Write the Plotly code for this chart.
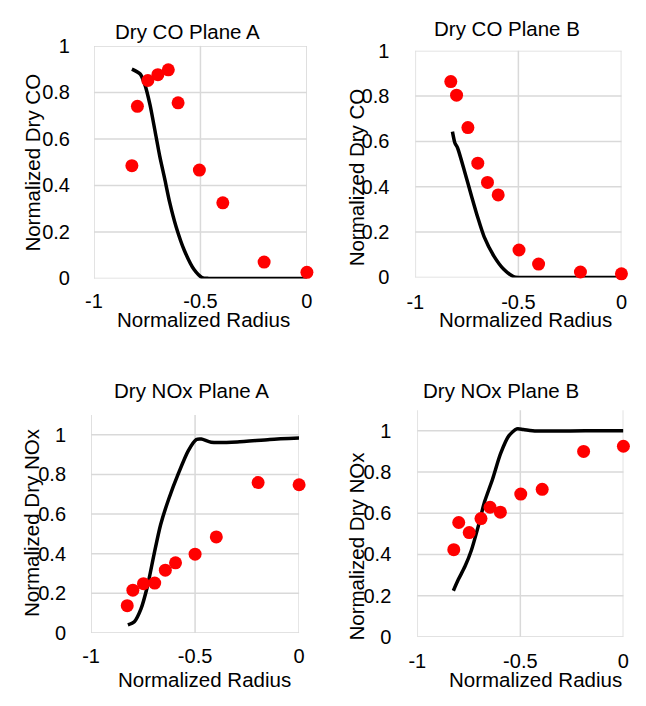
import plotly.graph_objects as go

W, H = 646, 706

# ---------------- data ----------------
co_a_dot_x = [-0.822, -0.796, -0.747, -0.700, -0.651, -0.605, -0.505, -0.395, -0.201, 0.0]
co_a_dot_y = [0.485, 0.740, 0.851, 0.876, 0.897, 0.755, 0.466, 0.325, 0.070, 0.026]
co_a_line_x = [-0.822, -0.783, -0.760, -0.737, -0.714, -0.691, -0.668, -0.645, -0.614, -0.576, -0.530, -0.493, -0.461, -0.3, -0.1, 0.0]
co_a_line_y = [0.900, 0.879, 0.830, 0.747, 0.637, 0.525, 0.429, 0.329, 0.221, 0.121, 0.038, 0.004, 0.0, 0.0, 0.0, 0.0]

co_b_dot_x = [-0.828, -0.800, -0.745, -0.697, -0.650, -0.598, -0.497, -0.402, -0.199, 0.0]
co_b_dot_y = [0.864, 0.804, 0.661, 0.504, 0.419, 0.364, 0.121, 0.059, 0.024, 0.016]
co_b_line_x = [-0.820, -0.808, -0.795, -0.760, -0.729, -0.697, -0.666, -0.618, -0.571, -0.524, -0.500, -0.3, -0.1, 0.0]
co_b_line_y = [0.643, 0.593, 0.571, 0.464, 0.364, 0.264, 0.179, 0.093, 0.036, 0.004, 0.0, 0.0, 0.0, 0.0]

nox_a_dot_x = [-0.826, -0.799, -0.748, -0.694, -0.643, -0.594, -0.500, -0.398, -0.197, 0.0]
nox_a_dot_y = [0.138, 0.216, 0.249, 0.252, 0.317, 0.354, 0.398, 0.485, 0.759, 0.748]
nox_a_line_x = [-0.823, -0.792, -0.760, -0.729, -0.697, -0.666, -0.627, -0.580, -0.533, -0.494, -0.470, -0.423, -0.298, -0.141, 0.0]
nox_a_line_y = [0.041, 0.057, 0.122, 0.236, 0.398, 0.545, 0.675, 0.805, 0.919, 0.976, 0.979, 0.963, 0.964, 0.977, 0.984]

nox_b_dot_x = [-0.823, -0.799, -0.748, -0.691, -0.647, -0.597, -0.498, -0.394, -0.193, 0.0]
nox_b_dot_y = [0.423, 0.555, 0.506, 0.574, 0.629, 0.605, 0.693, 0.716, 0.900, 0.925]
nox_b_line_x = [-0.825, -0.801, -0.769, -0.738, -0.706, -0.674, -0.635, -0.596, -0.556, -0.517, -0.485, -0.422, -0.185, 0.0]
nox_b_line_y = [0.224, 0.278, 0.341, 0.419, 0.530, 0.654, 0.765, 0.889, 0.975, 1.009, 1.006, 0.999, 1.000, 1.000]

titles = ["Dry CO Plane A", "Dry CO Plane B", "Dry NOx Plane A", "Dry NOx Plane B"]
y_titles = ["Normalized Dry CO", "Normalized Dry CO", "Normalized Dry NOx", "Normalized Dry NOx"]
x_title = "Normalized Radius"
x_ticks = [-1, -0.5, 0]
x_tick_text = ["-1", "-0.5", "0"]
y_ticks = [0, 0.2, 0.4, 0.6, 0.8, 1]
y_tick_text = ["0", "0.2", "0.4", "0.6", "0.8", "1"]
y_max = [1.0, 1.0, 1.1, 1.1]

series = [
    (co_a_dot_x, co_a_dot_y, co_a_line_x, co_a_line_y),
    (co_b_dot_x, co_b_dot_y, co_b_line_x, co_b_line_y),
    (nox_a_dot_x, nox_a_dot_y, nox_a_line_x, nox_a_line_y),
    (nox_b_dot_x, nox_b_dot_y, nox_b_line_x, nox_b_line_y),
]

# ---------------- layout (pixel boxes) ----------------
boxes = [(87, 305, 36, 276), (416, 627, 41, 275), (84, 297, 417, 642), (418, 629, 412, 646)]
title_pos = [(183, 21), (510, 18), (187, 392), (504, 392)]
xt_pos = [(199, 318), (529, 318), (200, 690), (539, 690)]
yt_pos = [(24, 156), (356, 172), (23, 528), (356, 552)]
x_ticklen = [5, 7, 5, 6]
y_ticklen = [19, 21, 20, 21]

FONT = "Liberation Sans, Arial, sans-serif"
GRID = "#d9d9d9"
fig = go.Figure()
annotations = []
shapes = []


def px(x):
    return x / W


def py(y):
    return 1 - y / H


for i, (dx, dy, lx, ly) in enumerate(series):
    n = "" if i == 0 else str(i + 1)
    xa, ya = "x" + n, "y" + n
    # gridlines
    for xv in x_ticks:
        shapes.append(dict(type="line", xref=xa, yref=ya + " domain", x0=xv, x1=xv, y0=0, y1=1,
                           line=dict(color=GRID, width=1.5), layer="below"))
    for yv in y_ticks:
        shapes.append(dict(type="line", xref=xa + " domain", yref=ya, x0=0, x1=1, y0=yv, y1=yv,
                           line=dict(color=GRID, width=1.5), layer="below"))
    fig.add_trace(go.Scatter(x=lx, y=ly, mode="lines", xaxis=xa, yaxis=ya,
                             line=dict(color="black", width=3.5, shape="spline", smoothing=0.7),
                             cliponaxis=False, showlegend=False))
    fig.add_trace(go.Scatter(x=dx, y=dy, mode="markers", xaxis=xa, yaxis=ya,
                             marker=dict(color="#ff0000", size=13, line=dict(width=0)),
                             cliponaxis=False, showlegend=False))
    l, r, t, b = boxes[i]
    fig.layout["xaxis" + n] = dict(domain=[px(l), px(r)], range=[-1, 0], anchor=ya,
                                   tickvals=x_ticks, ticktext=x_tick_text,
                                   showgrid=False, zeroline=False, showline=False,
                                   ticks="outside", ticklen=x_ticklen[i], tickcolor="rgba(0,0,0,0)",
                                   tickfont=dict(family=FONT, size=20, color="black"))
    fig.layout["yaxis" + n] = dict(domain=[py(b), py(t)], range=[0, y_max[i]], anchor=xa,
                                   tickvals=y_ticks, ticktext=y_tick_text,
                                   showgrid=False, zeroline=False, showline=False,
                                   ticks="outside", ticklen=y_ticklen[i], tickcolor="rgba(0,0,0,0)",
                                   tickfont=dict(family=FONT, size=20, color="black"))
    tx, ty = title_pos[i]
    annotations.append(dict(text=titles[i], x=px(tx), y=py(ty), xref="paper", yref="paper",
                            showarrow=False, xanchor="center", yanchor="middle",
                            font=dict(family=FONT, size=20.5, color="black")))
    ax, ay = xt_pos[i]
    annotations.append(dict(text=x_title, x=px(ax), y=py(ay), xref="paper", yref="paper",
                            showarrow=False, xanchor="center", yanchor="middle",
                            font=dict(family=FONT, size=20.5, color="black")))
    bx, by = yt_pos[i]
    annotations.append(dict(text=y_titles[i], x=px(bx), y=py(by), xref="paper", yref="paper",
                            showarrow=False, xanchor="center", yanchor="middle", textangle=-90,
                            font=dict(family=FONT, size=20.5, color="black")))

fig.update_layout(width=W, height=H, margin=dict(l=0, r=0, t=0, b=0),
                  paper_bgcolor="white", plot_bgcolor="white",
                  annotations=annotations, shapes=shapes, showlegend=False)

fig.write_html("out.html")
